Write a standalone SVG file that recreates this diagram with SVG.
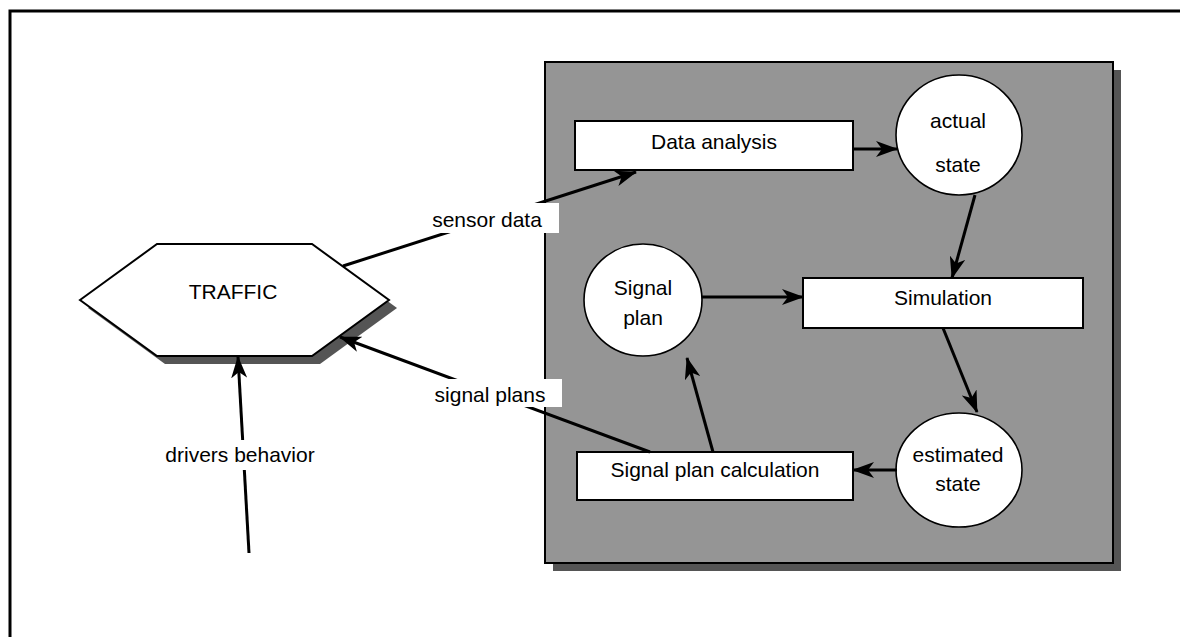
<svg xmlns="http://www.w3.org/2000/svg" width="1180" height="637" viewBox="0 0 1180 637">
  <defs>
    <marker id="arrow" viewBox="0 0 22 16" refX="21" refY="8" markerWidth="22" markerHeight="16" markerUnits="userSpaceOnUse" orient="auto">
      <path d="M0,0 L22,8 L0,16 L6,8 Z" fill="#000"/>
    </marker>
  </defs>
  <style>
    text { font-family: "Liberation Sans", Arial, sans-serif; font-size: 21px; fill: #000; text-anchor: middle; }
    .node { fill: #fff; stroke: #000; stroke-width: 2; }
    .oval { fill: #fff; stroke: #000; stroke-width: 1.6; }
    .shadow { fill: #555; }
    .edge { fill: none; stroke: #000; stroke-width: 3; marker-end: url(#arrow); }
    .labelbg { fill: #fff; }
  </style>

  <rect width="1180" height="637" fill="#fff"/>
  <!-- page frame -->
  <rect x="10" y="11" width="1200" height="700" fill="none" stroke="#000" stroke-width="3"/>

  <!-- control panel -->
  <g id="panel">
    <rect class="shadow" x="553" y="70" width="568" height="501"/>
    <rect x="545" y="62" width="568" height="501" fill="#959595" stroke="#000" stroke-width="2"/>
  </g>

  <!-- traffic -->
  <g id="traffic">
    <polygon class="shadow" points="88,308 165,252 320,252 397,308 320,364 165,364"/>
    <polygon class="node" points="80,300 157,244 312,244 389,300 312,356 157,356"/>
    <text x="233" y="299">TRAFFIC</text>
  </g>

  <g id="data-analysis">
    <rect class="node" x="575" y="121" width="278" height="49"/>
    <text x="714" y="149">Data analysis</text>
  </g>

  <g id="actual-state">
    <ellipse class="oval" cx="959" cy="135" rx="63" ry="60"/>
    <text x="958" y="128">actual</text>
    <text x="958" y="172">state</text>
  </g>

  <g id="simulation">
    <rect class="node" x="803" y="278" width="280" height="50"/>
    <text x="943" y="305">Simulation</text>
  </g>

  <g id="signal-plan">
    <ellipse class="oval" cx="643" cy="300" rx="59" ry="56"/>
    <text x="643" y="295">Signal</text>
    <text x="643" y="325">plan</text>
  </g>

  <g id="estimated-state">
    <ellipse class="oval" cx="959" cy="470" rx="63" ry="57"/>
    <text x="958" y="462">estimated</text>
    <text x="958" y="491">state</text>
  </g>

  <g id="signal-plan-calculation">
    <rect class="node" x="577" y="452" width="276" height="48"/>
    <text x="715" y="477">Signal plan calculation</text>
  </g>

  <!-- connectors -->
  <g id="connectors">
    <line class="edge" x1="853" y1="149" x2="897" y2="149"/>
    <line class="edge" x1="975" y1="195" x2="952" y2="278"/>
    <line class="edge" x1="702" y1="297" x2="803" y2="297"/>
    <line class="edge" x1="943" y1="328" x2="977" y2="412"/>
    <line class="edge" x1="897" y1="470" x2="853" y2="470"/>
    <line class="edge" x1="713" y1="452" x2="687" y2="358"/>
    <line class="edge" x1="343" y1="266" x2="636" y2="172"/>
    <line class="edge" x1="650" y1="452" x2="340" y2="337"/>
    <line class="edge" x1="249" y1="553" x2="238" y2="357"/>
  </g>

  <!-- connector labels -->
  <g id="labels">
    <rect class="labelbg" x="416" y="203" width="143" height="30"/>
    <text x="487" y="227">sensor data</text>
    <rect class="labelbg" x="420" y="379" width="142" height="28"/>
    <text x="490" y="402">signal plans</text>
    <rect class="labelbg" x="158" y="440" width="164" height="30"/>
    <text x="240" y="462">drivers behavior</text>
  </g>
</svg>
